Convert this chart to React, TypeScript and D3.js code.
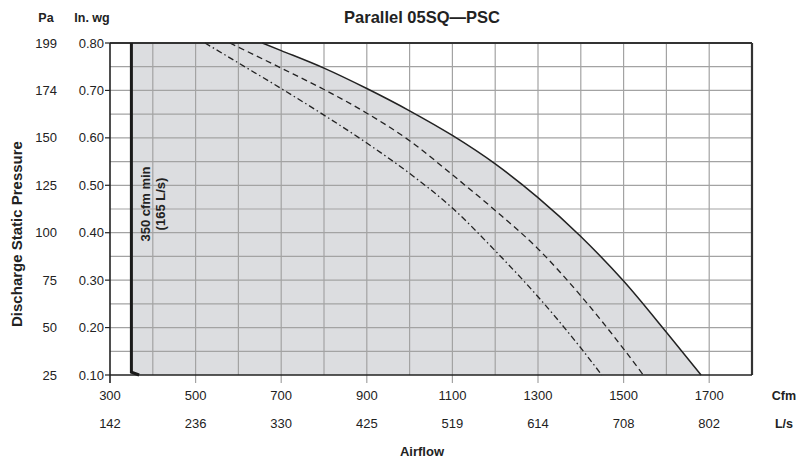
import React from "react";
import * as d3 from "d3";

// Fan curve data: airflow (cfm) vs discharge static pressure (in. wg)
const maxCurveCfm = [656, 700, 800, 900, 1000, 1100, 1200, 1300, 1400, 1500, 1600, 1681];
const maxCurveInwg = [0.8, 0.784, 0.747, 0.704, 0.657, 0.605, 0.545, 0.474, 0.392, 0.298, 0.19, 0.1];

const midCurveCfm = [580, 700, 800, 900, 1000, 1100, 1200, 1300, 1400, 1500, 1546];
const midCurveInwg = [0.8, 0.747, 0.702, 0.652, 0.594, 0.522, 0.447, 0.366, 0.267, 0.155, 0.1];

const minCurveCfm = [522, 600, 700, 800, 900, 1000, 1100, 1200, 1300, 1400, 1449];
const minCurveInwg = [0.8, 0.758, 0.704, 0.648, 0.589, 0.525, 0.452, 0.362, 0.265, 0.157, 0.1];

// Minimum airflow limit
const minAirflowCfm = [350, 350, 368];
const minAirflowInwg = [0.8, 0.106, 0.1];

const cfmTicks = [300, 500, 700, 900, 1100, 1300, 1500, 1700];
const lpsTicks = ["142", "236", "330", "425", "519", "614", "708", "802"];
const inwgTicks = [0.8, 0.7, 0.6, 0.5, 0.4, 0.3, 0.2, 0.1];
const paTicks = ["199", "174", "150", "125", "100", "75", "50", "25"];
const vGrid = [400, 500, 600, 700, 800, 900, 1000, 1100, 1200, 1300, 1400, 1500, 1600, 1700];
const hGrid = [0.15, 0.2, 0.25, 0.3, 0.35, 0.4, 0.45, 0.5, 0.55, 0.6, 0.65, 0.7, 0.75];

const W = 807;
const H = 460;
const left = 110;
const right = 752;
const top = 43;
const bottom = 375;

const FONT = "'Liberation Sans', Arial, Helvetica, sans-serif";

export default function App() {
  const x = d3.scaleLinear().domain([300, 1800]).range([left, right]);
  const y = d3.scaleLinear().domain([0.1, 0.8]).range([bottom, top]);

  const zip = (xs: number[], ys: number[]) => xs.map((v, i) => [v, ys[i]] as [number, number]);
  const maxPts = zip(maxCurveCfm, maxCurveInwg);
  const midPts = zip(midCurveCfm, midCurveInwg);
  const minPts = zip(minCurveCfm, minCurveInwg);
  const limitPts = zip(minAirflowCfm, minAirflowInwg);

  const line = d3
    .line<[number, number]>()
    .x((d) => x(d[0]))
    .y((d) => y(d[1]))
    .curve(d3.curveMonotoneX);

  const straight = d3
    .line<[number, number]>()
    .x((d) => x(d[0]))
    .y((d) => y(d[1]));

  // Operating region: bounded by the minimum airflow line and the max curve
  const regionPath =
    `M${x(350)},${y(0.8)}` +
    (line(maxPts) as string).replace(/^M/, "L") +
    `L${x(368)},${y(0.1)}L${x(350)},${y(0.106)}Z`;

  return (
    <svg width={W} height={H} style={{ display: "block", position: "absolute", left: 0, top: 0 }} fontFamily={FONT}>
      <rect width={W} height={H} fill="#fff" />
      <path d={regionPath} fill="#dcdde0" />

      {/* grid */}
      {hGrid.map((v) => (
        <line key={"h" + v} x1={left} x2={right} y1={y(v)} y2={y(v)} stroke="#a3a3a3" strokeWidth={1.2} />
      ))}
      {vGrid.map((v) => (
        <line
          key={"v" + v}
          x1={x(v)}
          x2={x(v)}
          y1={top}
          y2={cfmTicks.includes(v) ? bottom + 8 : bottom}
          stroke="#a3a3a3"
          strokeWidth={1.2}
        />
      ))}

      {/* frame */}
      <line x1={left} x2={right} y1={top} y2={top} stroke="#333" strokeWidth={2} />
      <line x1={right} x2={right} y1={top} y2={bottom} stroke="#333" strokeWidth={2.2} />
      <line x1={left} x2={right} y1={bottom} y2={bottom} stroke="#222" strokeWidth={1.6} />
      <line x1={left} x2={left} y1={top} y2={bottom + 8} stroke="#222" strokeWidth={1.6} />
      {inwgTicks.map((v) => (
        <line key={"t" + v} x1={left - 5} x2={left} y1={y(v)} y2={y(v)} stroke="#222" strokeWidth={1.2} />
      ))}

      {/* fan curves */}
      <path d={line(minPts) as string} fill="none" stroke="#222" strokeWidth={1.3} strokeDasharray="6 3 1.5 3" />
      <path d={line(midPts) as string} fill="none" stroke="#222" strokeWidth={1.3} strokeDasharray="6 4" />
      <path d={line(maxPts) as string} fill="none" stroke="#222" strokeWidth={1.5} />
      <path d={straight(limitPts) as string} fill="none" stroke="#1a1a1a" strokeWidth={3} />

      <text
        transform={`translate(${x(350) + 19},204) rotate(-90)`}
        textAnchor="middle"
        fontSize={13}
        fontWeight="bold"
        fill="#222"
      >
        350 cfm min
      </text>
      <text
        transform={`translate(${x(350) + 34},204) rotate(-90)`}
        textAnchor="middle"
        fontSize={13}
        fontWeight="bold"
        fill="#222"
      >
        (165 L/s)
      </text>

      {/* y-axis labels */}
      <text x={46} y={22} textAnchor="middle" fontSize={12.5} fontWeight="bold" fill="#222">
        Pa
      </text>
      <text x={92} y={22} textAnchor="middle" fontSize={12.5} fontWeight="bold" fill="#222">
        In. wg
      </text>
      {inwgTicks.map((v, i) => (
        <g key={"yl" + v} fontSize={13} fill="#222">
          <text x={57} y={y(v) + 4.5} textAnchor="end">
            {paTicks[i]}
          </text>
          <text x={104} y={y(v) + 4.5} textAnchor="end">
            {v.toFixed(2)}
          </text>
        </g>
      ))}
      <text
        transform={`translate(22,${(top + bottom) / 2 + 25}) rotate(-90)`}
        textAnchor="middle"
        fontSize={15}
        fontWeight="bold"
        fill="#222"
      >
        Discharge Static Pressure
      </text>

      {/* x-axis labels */}
      {cfmTicks.map((v, i) => (
        <g key={"xl" + v} fontSize={13} fill="#222" textAnchor="middle">
          <text x={x(v)} y={400}>
            {v}
          </text>
          <text x={x(v)} y={428}>
            {lpsTicks[i]}
          </text>
        </g>
      ))}
      <text x={784} y={400} textAnchor="middle" fontSize={12.5} fontWeight="bold" fill="#222">
        Cfm
      </text>
      <text x={784} y={428} textAnchor="middle" fontSize={12.5} fontWeight="bold" fill="#222">
        L/s
      </text>
      <text x={422} y={456} textAnchor="middle" fontSize={13} fontWeight="bold" fill="#222">
        Airflow
      </text>

      <text x={422} y={23} textAnchor="middle" fontSize={16.5} fontWeight="bold" fill="#222">
        Parallel 05SQ—PSC
      </text>
    </svg>
  );
}
